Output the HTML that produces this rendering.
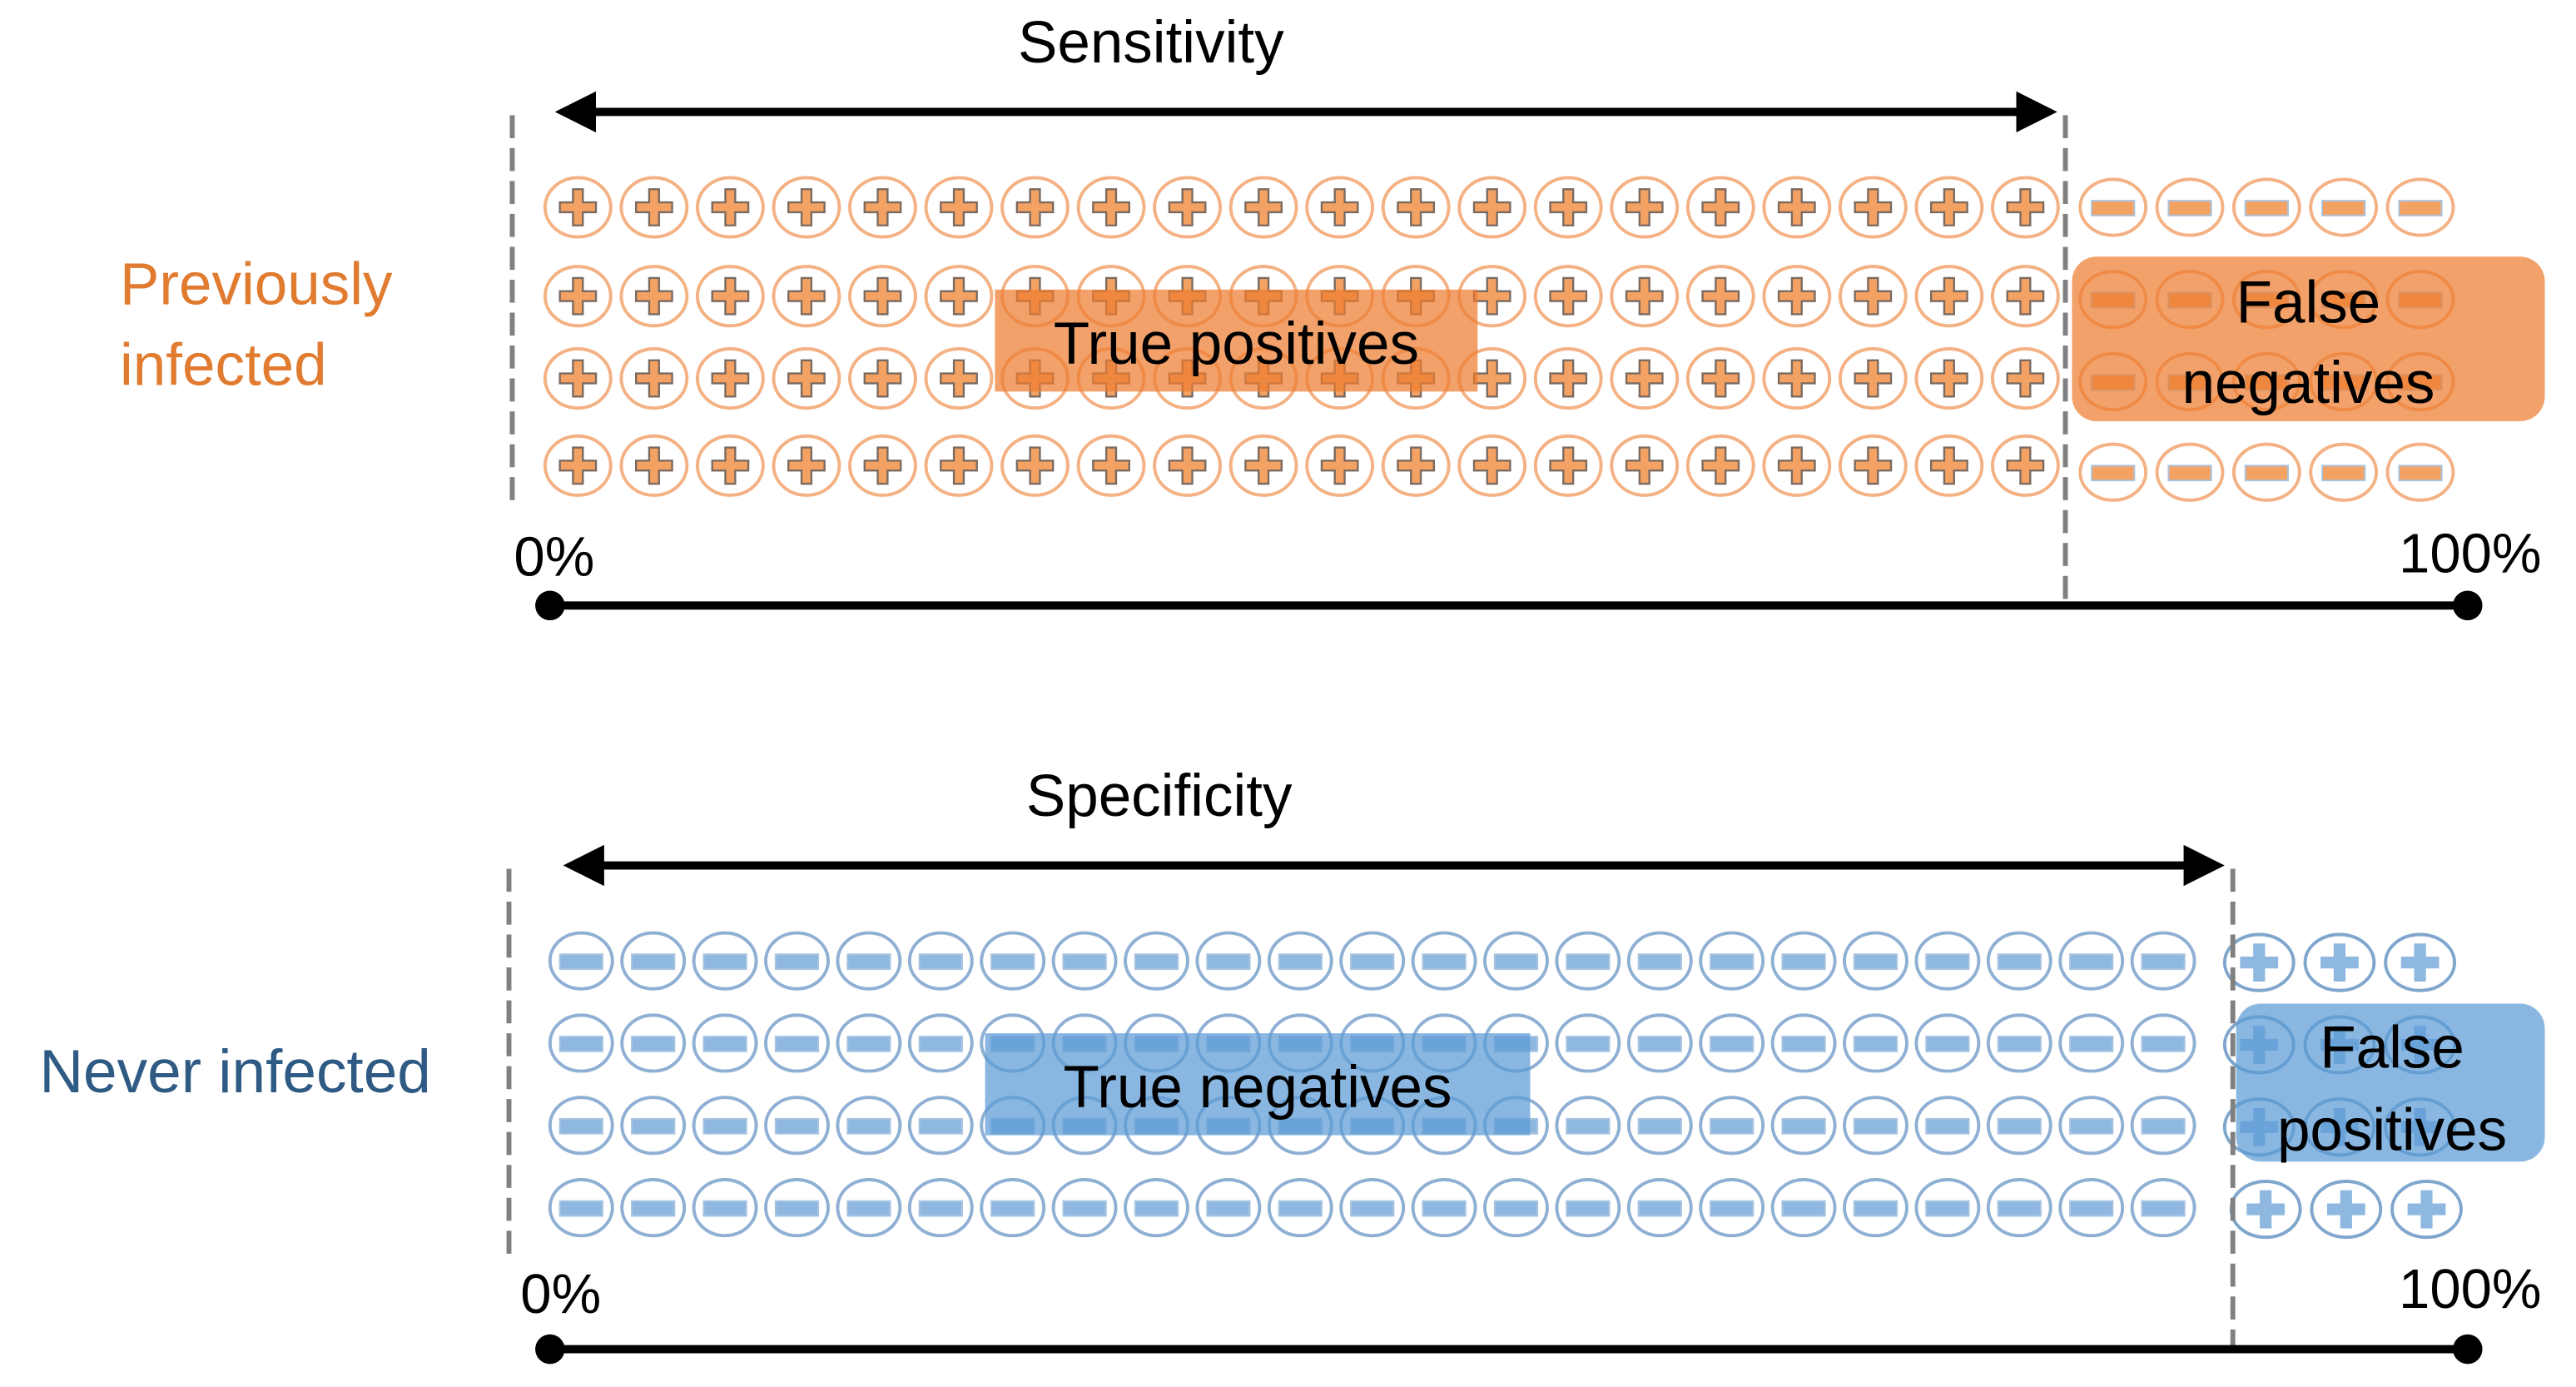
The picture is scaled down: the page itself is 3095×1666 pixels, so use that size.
<!DOCTYPE html>
<html><head><meta charset="utf-8"><style>
html,body{margin:0;padding:0;background:#fff;width:3095px;height:1666px;overflow:hidden}
svg{display:block}
text{font-family:"Liberation Sans",sans-serif}
</style></head><body>
<svg id="s" width="3095" height="1666" viewBox="0 0 1569 843" preserveAspectRatio="none" xmlns="http://www.w3.org/2000/svg">
<defs>
<marker id="ah" markerWidth="5" markerHeight="5" refX="4" refY="2.5" orient="auto-start-reverse" markerUnits="strokeWidth">
<path d="M0,0 L5,2.5 L0,5 z" fill="#000"/></marker>
</defs>
<g id="g"></g>
<!-- top -->
<text x="701" y="38" font-size="36" text-anchor="middle">Sensitivity</text>
<line x1="343" y1="68" x2="1248" y2="68" stroke="#000" stroke-width="5" marker-start="url(#ah)" marker-end="url(#ah)"/>
<line x1="312" y1="70" x2="312" y2="305" stroke="#808080" stroke-width="3" stroke-dasharray="14,6"/>
<line x1="1258" y1="70" x2="1258" y2="365" stroke="#808080" stroke-width="3" stroke-dasharray="14,6"/>
<text x="73" y="185" font-size="36" fill="#e07b30">Previously</text>
<text x="73" y="234" font-size="36" fill="#e07b30">infected</text>
<text x="313" y="350" font-size="34">0%</text>
<text x="1548" y="348" font-size="34" text-anchor="end">100%</text>
<line x1="335" y1="368" x2="1503" y2="368" stroke="#000" stroke-width="5"/>
<circle cx="335" cy="368" r="9"/><circle cx="1503" cy="368" r="9"/>
<!-- bottom -->
<text x="706" y="496" font-size="36" text-anchor="middle">Specificity</text>
<line x1="348" y1="526" x2="1350" y2="526" stroke="#000" stroke-width="5" marker-start="url(#ah)" marker-end="url(#ah)"/>
<line x1="310" y1="528" x2="310" y2="762" stroke="#808080" stroke-width="3" stroke-dasharray="14,6"/>
<line x1="1360" y1="528" x2="1360" y2="820" stroke="#808080" stroke-width="3" stroke-dasharray="14,6"/>
<text x="24" y="664" font-size="37" fill="#2e5a84">Never infected</text>
<text x="317" y="798" font-size="34">0%</text>
<text x="1548" y="795" font-size="34" text-anchor="end">100%</text>
<line x1="335" y1="820" x2="1503" y2="820" stroke="#000" stroke-width="5"/>
<circle cx="335" cy="820" r="9"/><circle cx="1503" cy="820" r="9"/>
<g id="boxes">
<rect x="606" y="176" width="294" height="62" fill="rgb(237,125,49)" fill-opacity="0.72"/>
<text x="753" y="221" font-size="36" text-anchor="middle">True positives</text>
<rect x="1262" y="156" width="288" height="100" rx="15" fill="rgb(237,125,49)" fill-opacity="0.72"/>
<text x="1406" y="196" font-size="36" text-anchor="middle">False</text>
<text x="1406" y="245" font-size="36" text-anchor="middle">negatives</text>
<rect x="600" y="628" width="332" height="62" fill="rgb(91,155,213)" fill-opacity="0.72"/>
<text x="766" y="673" font-size="36" text-anchor="middle">True negatives</text>
<rect x="1362" y="610" width="188" height="96" rx="15" fill="rgb(91,155,213)" fill-opacity="0.72"/>
<text x="1457" y="649" font-size="36" text-anchor="middle">False</text>
<text x="1457" y="699" font-size="36" text-anchor="middle">positives</text>
</g>
</svg>
<script>
var g=document.getElementById('g'),h='';
function plus(x,y,fill,st,rx,ry,cs){
 h+='<ellipse cx="'+x+'" cy="'+y+'" rx="'+rx+'" ry="'+ry+'" fill="#fff" stroke="'+cs+'" stroke-width="2"/>';
 h+='<path d="M'+(x-3)+','+(y-11)+'h6v8h8v6h-8v8h-6v-8h-8v-6h8z" fill="'+fill+'" stroke="'+st+'" stroke-width="1.2"/>';
}
function minus(x,y,fill,st,rx,ry,cs){
 h+='<ellipse cx="'+x+'" cy="'+y+'" rx="'+rx+'" ry="'+ry+'" fill="#fff" stroke="'+cs+'" stroke-width="2"/>';
 h+='<rect x="'+(x-13)+'" y="'+(y-4)+'" width="26" height="9" fill="'+fill+'" stroke="'+st+'" stroke-width="1"/>';
}
var ty=[126,180,230,283],ty2=[126,182,232,287];
for(var r=0;r<4;r++){
 for(var c=0;c<20;c++)plus(352+c*46.4,ty[r],'#f4a263','#7a6a60',20,18,'#f4b183');
 for(var c=0;c<5;c++)minus(1287+c*46.8,ty2[r],'#f4a263','#a9c4e0',20,17,'#f4b183');
}
var by=[584,634,684,734];
for(var r=0;r<4;r++){
 for(var c=0;c<23;c++)minus(354+c*43.8,by[r],'#8fb8e0','#a9c4e0',19,17,'#8fb0d4');
 var off=(r==3)?4:0;
 for(var c=0;c<3;c++)plus(1376+off+c*49,by[r]+1,'#8fb8e0','#8fb8e0',21,17,'#7fa6cc');
}
g.innerHTML=h;
</script>
</body></html>
